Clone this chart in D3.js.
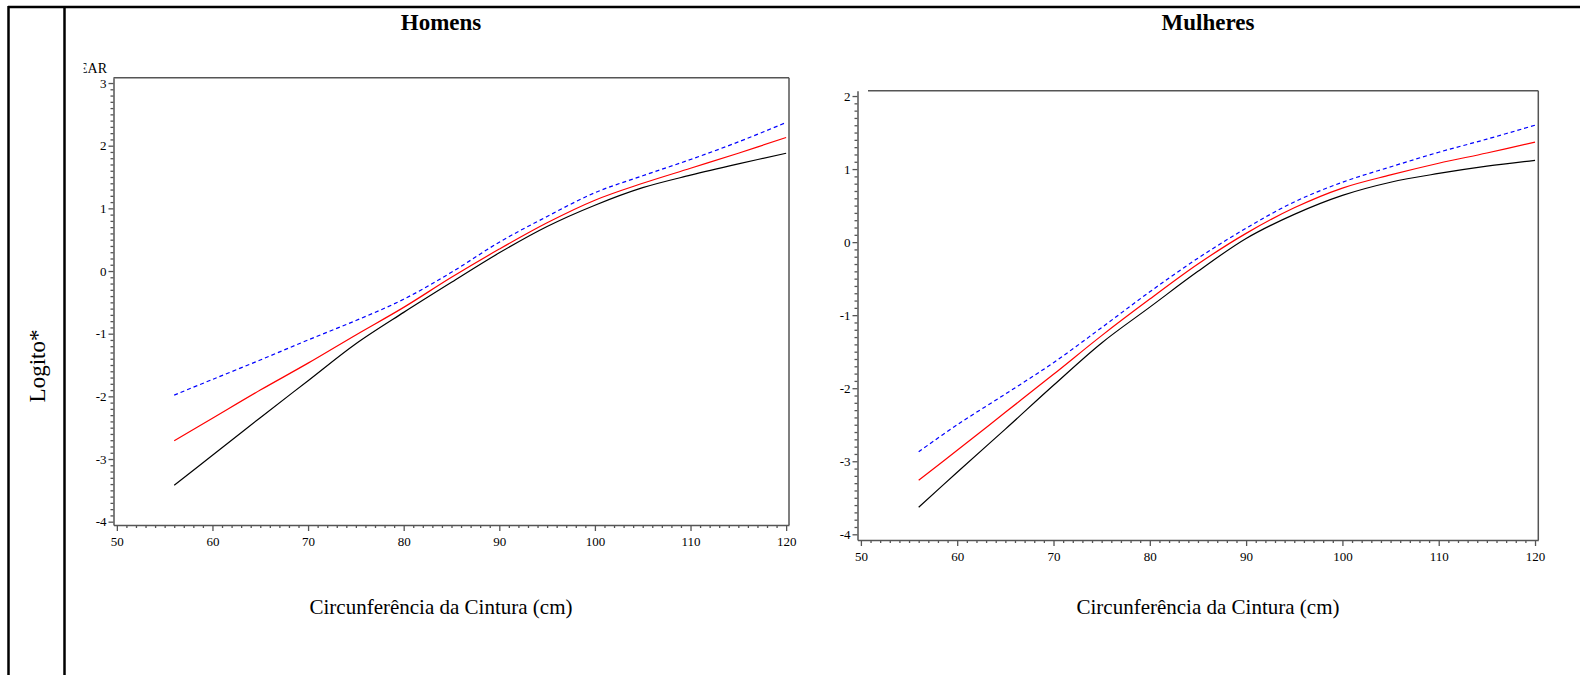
<!DOCTYPE html>
<html>
<head>
<meta charset="utf-8">
<script src="https://cdn.jsdelivr.net/npm/d3@7"></script>
<style>
  html, body { margin: 0; padding: 0; background: #fff; }
  svg { display: block; }
  svg text { font-family: "Liberation Serif", "Times New Roman", serif; fill: #000; }
</style>
</head>
<body>
<svg id="chart" width="1580" height="675"></svg>
<script>
// Waist circumference (cm) at which the fitted logits are evaluated
const waist = [56, 60, 65, 70, 75, 80, 85, 90, 95, 100, 105, 110, 115, 120];

// Men
const homensBlack = [-3.42, -2.94, -2.34, -1.75, -1.16, -0.66, -0.18, 0.29, 0.71, 1.05, 1.33, 1.53, 1.71, 1.88];
const homensRed   = [-2.71, -2.35, -1.90, -1.47, -1.02, -0.58, -0.10, 0.35, 0.77, 1.13, 1.40, 1.64, 1.88, 2.13];
const homensBlue  = [-1.98, -1.73, -1.42, -1.10, -0.79, -0.45, -0.02, 0.46, 0.87, 1.25, 1.52, 1.78, 2.06, 2.37];

// Women
const mulheresBlack = [-3.63, -3.15, -2.56, -1.96, -1.38, -0.89, -0.40, 0.05, 0.38, 0.64, 0.82, 0.94, 1.04, 1.12];
const mulheresRed   = [-3.26, -2.85, -2.33, -1.81, -1.28, -0.78, -0.30, 0.12, 0.47, 0.74, 0.92, 1.08, 1.22, 1.37];
const mulheresBlue  = [-2.87, -2.50, -2.08, -1.65, -1.17, -0.68, -0.22, 0.19, 0.55, 0.82, 1.03, 1.23, 1.41, 1.60];

// Axis ticks
const xTicks = [50, 60, 70, 80, 90, 100, 110, 120];
const homensYTicks = [-4, -3, -2, -1, 0, 1, 2, 3];
const mulheresYTicks = [-4, -3, -2, -1, 0, 1, 2];

const panelTitles = ["Homens", "Mulheres"];
const xTitle = "Circunferência da Cintura (cm)";
const yTitle = "Logito*";

const serif = '"Liberation Serif", "Times New Roman", serif';
const svg = d3.select("#chart");

// Outer table frame
svg.append("line").attr("x1", 8).attr("x2", 1580).attr("y1", 7).attr("y2", 7)
  .attr("stroke", "#000").attr("stroke-width", 2.5);
svg.append("line").attr("x1", 8.5).attr("x2", 8.5).attr("y1", 6).attr("y2", 675)
  .attr("stroke", "#000").attr("stroke-width", 2.5);
svg.append("line").attr("x1", 64.5).attr("x2", 64.5).attr("y1", 6).attr("y2", 675)
  .attr("stroke", "#000").attr("stroke-width", 2.5);

// Row label
svg.append("text")
  .attr("transform", "translate(45,366) rotate(-90)")
  .attr("text-anchor", "middle")
  .style("font-size", "23px")
  .text(yTitle);

// Partially hidden label above the first plot
svg.append("clipPath").attr("id", "labclip")
  .append("rect").attr("x", 83.5).attr("y", 55).attr("width", 40).attr("height", 25);
svg.append("text")
  .attr("x", 107).attr("y", 73)
  .attr("text-anchor", "end")
  .style("font-size", "14px")
  .attr("clip-path", "url(#labclip)")
  .text("EAR");

function drawPanel(cfg) {
  const x = d3.scaleLinear().domain(cfg.xDomain).range([cfg.left, cfg.right]);
  const y = d3.scaleLinear().domain(cfg.yDomain).range([cfg.bottom, cfg.top]);
  const g = svg.append("g");
  const axisColor = "#555";

  // Title
  g.append("text")
    .attr("x", cfg.titleX).attr("y", 30)
    .attr("text-anchor", "middle")
    .style("font-size", "23px").style("font-weight", "bold")
    .text(cfg.title);

  // Frame (top and right)
  g.append("line").attr("x1", cfg.topStart).attr("x2", cfg.right)
    .attr("y1", cfg.top).attr("y2", cfg.top)
    .attr("stroke", axisColor).attr("stroke-width", 1.5);
  g.append("line").attr("x1", cfg.right).attr("x2", cfg.right)
    .attr("y1", cfg.top).attr("y2", cfg.bottom)
    .attr("stroke", axisColor).attr("stroke-width", 1.5);

  // Minor ticks
  const xMinor = d3.range(50, 121, 1).filter(v => v % 10 !== 0);
  const yMinor = d3.range(Math.round(cfg.yTicks[0] * 10), Math.round(cfg.yTicks[cfg.yTicks.length - 1] * 10) + 1)
    .filter(v => v % 10 !== 0).map(v => v / 10);

  const xMinorAxis = g.append("g").attr("transform", `translate(0,${cfg.bottom})`)
    .call(d3.axisBottom(x).tickValues(xMinor).tickSize(3).tickFormat(""));
  const yMinorAxis = g.append("g").attr("transform", `translate(${cfg.left},0)`)
    .call(d3.axisLeft(y).tickValues(yMinor).tickSize(3).tickFormat(""));
  [xMinorAxis, yMinorAxis].forEach(a => {
    a.select(".domain").remove();
    a.selectAll("line").attr("stroke", axisColor).attr("stroke-width", 1.3);
  });

  // Major axes
  const xAxis = g.append("g").attr("transform", `translate(0,${cfg.bottom})`)
    .call(d3.axisBottom(x).tickValues(xTicks).tickSize(6).tickPadding(6).tickSizeOuter(0));
  const yAxis = g.append("g").attr("transform", `translate(${cfg.left},0)`)
    .call(d3.axisLeft(y).tickValues(cfg.yTicks).tickSize(5).tickPadding(2).tickSizeOuter(0)
      .tickFormat(d => d < 0 ? "-" + Math.abs(d) : String(d)));
  [xAxis, yAxis].forEach(a => {
    a.attr("font-family", null).attr("font-size", null);
    a.select(".domain").attr("stroke", axisColor).attr("stroke-width", 1.5);
    a.selectAll(".tick line").attr("stroke", axisColor).attr("stroke-width", 1.3);
    a.selectAll(".tick text")
      .style("font-family", serif)
      .style("font-size", "13px")
      .style("fill", "#000");
  });

  // Axis title
  g.append("text")
    .attr("x", cfg.titleX).attr("y", 614)
    .attr("text-anchor", "middle")
    .style("font-size", "21px")
    .text(xTitle);

  // Fitted curves
  const line = d3.line()
    .x((d, i) => x(waist[i]))
    .y(d => y(d))
    .curve(d3.curveCatmullRom.alpha(0.5));

  g.append("path").datum(cfg.black).attr("d", line)
    .attr("fill", "none").attr("stroke", "#000").attr("stroke-width", 1.2);
  g.append("path").datum(cfg.red).attr("d", line)
    .attr("fill", "none").attr("stroke", "#ff0000").attr("stroke-width", 1.2);
  g.append("path").datum(cfg.blue).attr("d", line)
    .attr("fill", "none").attr("stroke", "#0000ff").attr("stroke-width", 1.2)
    .attr("stroke-dasharray", "4,3");
}

drawPanel({
  title: panelTitles[0], titleX: 441,
  left: 113.5, right: 789, top: 77.7, bottom: 525, topStart: 113.5,
  xDomain: [49.65, 120.3], yDomain: [-4.053, 3.085],
  yTicks: homensYTicks,
  black: homensBlack, red: homensRed, blue: homensBlue
});

drawPanel({
  title: panelTitles[1], titleX: 1208,
  left: 857.5, right: 1538.3, top: 90.7, bottom: 540, topStart: 868,
  xDomain: [49.647, 120.34], yDomain: [-4.078, 2.073],
  yTicks: mulheresYTicks,
  black: mulheresBlack, red: mulheresRed, blue: mulheresBlue
});
</script>
</body>
</html>
